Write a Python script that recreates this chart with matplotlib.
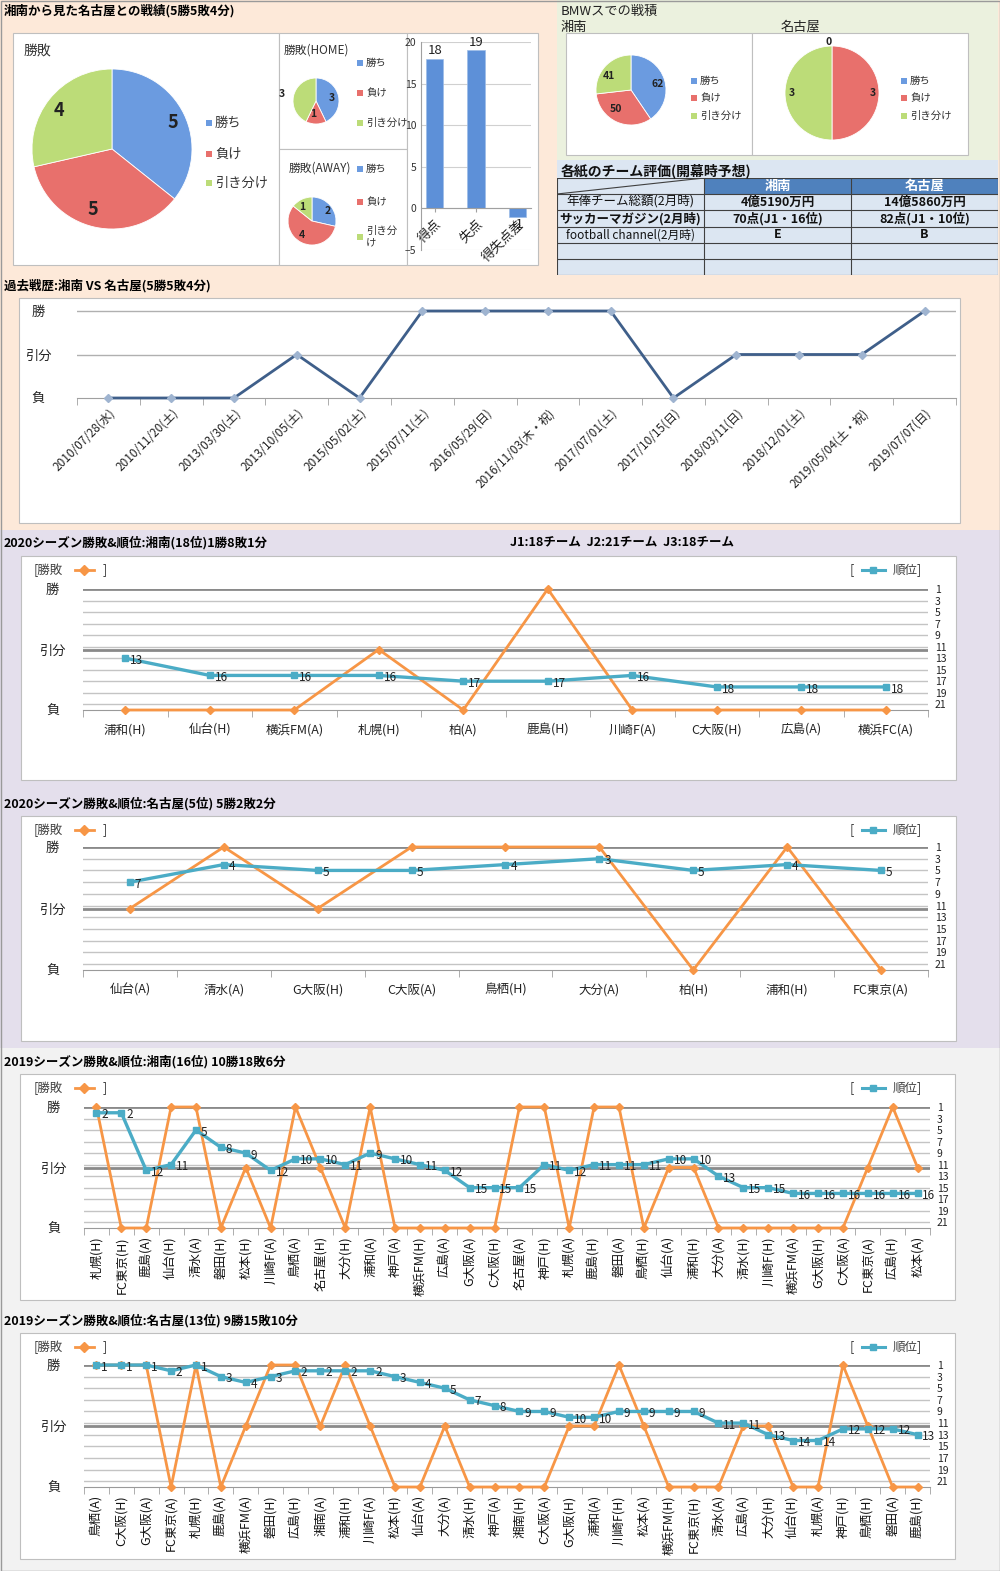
import matplotlib
matplotlib.use("Agg")
import matplotlib.pyplot as plt
from matplotlib.patches import Rectangle
from matplotlib.lines import Line2D

plt.rcParams['font.family'] = ['Noto Sans CJK JP', 'DejaVu Sans']

W, H = 1000, 1571

# ---------------- data ----------------
pie_labels = ['勝ち', '負け', '引き分け']
total_record = [5, 5, 4]
home_record = [3, 1, 3]
away_record = [2, 4, 1]
goal_names = ['得点', '失点', '得失点差']
goal_values = [18, 19, -1]
bmw_shonan = [62, 50, 41]
bmw_nagoya = [0, 3, 3]

table_header = ['', '湘南', '名古屋']
table_rows = [
    ['年俸チーム総額(2月時)', '4億5190万円', '14億5860万円'],
    ['サッカーマガジン(2月時)', '70点(J1・16位)', '82点(J1・10位)'],
    ['football channel(2月時)', 'E', 'B'],
    ['', '', ''],
    ['', '', ''],
]

# results: 1 = 勝, 0 = 引分, -1 = 負
past_dates = ['2010/07/28(水)', '2010/11/20(土)', '2013/03/30(土)', '2013/10/05(土)',
              '2015/05/02(土)', '2015/07/11(土)', '2016/05/29(日)', '2016/11/03(木・祝)',
              '2017/07/01(土)', '2017/10/15(日)', '2018/03/11(日)', '2018/12/01(土)',
              '2019/05/04(土・祝)', '2019/07/07(日)']
past_results = [-1, -1, -1, 0, -1, 1, 1, 1, 1, -1, 0, 0, 0, 1]

s20_teams = ['浦和(H)', '仙台(H)', '横浜FM(A)', '札幌(H)', '柏(A)', '鹿島(H)',
             '川崎F(A)', 'C大阪(H)', '広島(A)', '横浜FC(A)']
s20_results = [-1, -1, -1, 0, -1, 1, -1, -1, -1, -1]
s20_ranks = [13, 16, 16, 16, 17, 17, 16, 18, 18, 18]

n20_teams = ['仙台(A)', '清水(A)', 'G大阪(H)', 'C大阪(A)', '鳥栖(H)', '大分(A)',
             '柏(H)', '浦和(H)', 'FC東京(A)']
n20_results = [0, 1, 0, 1, 1, 1, -1, 1, -1]
n20_ranks = [7, 4, 5, 5, 4, 3, 5, 4, 5]

s19_teams = ['札幌(H)', 'FC東京(H)', '鹿島(A)', '仙台(H)', '清水(A)', '磐田(H)', '松本(H)',
             '川崎F(A)', '鳥栖(A)', '名古屋(H)', '大分(H)', '浦和(A)', '神戸(A)', '横浜FM(H)',
             '広島(A)', 'G大阪(A)', 'C大阪(H)', '名古屋(A)', '神戸(H)', '札幌(A)', '鹿島(H)',
             '磐田(A)', '鳥栖(H)', '仙台(A)', '浦和(H)', '大分(A)', '清水(H)', '川崎F(H)',
             '横浜FM(A)', 'G大阪(H)', 'C大阪(A)', 'FC東京(A)', '広島(H)', '松本(A)']
s19_results = [1, -1, -1, 1, 1, -1, 0, -1, 1, 0, -1, 1, -1, -1, -1, -1, -1,
               1, 1, -1, 1, 1, -1, 0, 0, -1, -1, -1, -1, -1, -1, 0, 1, 0]
s19_ranks = [2, 2, 12, 11, 5, 8, 9, 12, 10, 10, 11, 9, 10, 11, 12, 15, 15,
             15, 11, 12, 11, 11, 11, 10, 10, 13, 15, 15, 16, 16, 16, 16, 16, 16]

n19_teams = ['鳥栖(A)', 'C大阪(H)', 'G大阪(A)', 'FC東京(A)', '札幌(H)', '鹿島(A)', '横浜FM(A)',
             '磐田(H)', '広島(H)', '湘南(A)', '浦和(H)', '川崎F(A)', '松本(H)', '仙台(A)',
             '大分(A)', '清水(H)', '神戸(A)', '湘南(H)', 'C大阪(A)', 'G大阪(H)', '浦和(A)',
             '川崎F(H)', '松本(A)', '横浜FM(H)', 'FC東京(H)', '清水(A)', '広島(A)', '大分(H)',
             '仙台(H)', '札幌(A)', '神戸(H)', '鳥栖(H)', '磐田(A)', '鹿島(H)']
n19_results = [1, 1, 1, -1, 1, -1, 0, 1, 1, 0, 1, 0, -1, -1, 0, -1, -1,
               -1, -1, 0, 0, 1, 0, -1, -1, -1, 0, 0, -1, -1, 1, 0, -1, -1]
n19_ranks = [1, 1, 1, 2, 1, 3, 4, 3, 2, 2, 2, 2, 3, 4, 5, 7, 8,
             9, 9, 10, 10, 9, 9, 9, 9, 11, 11, 13, 14, 14, 12, 12, 12, 13]

pie_colors = ['#6b9be0', '#e8706c', '#bcdc78']
orange = '#f79646'
teal = '#4bacc6'

fig = plt.figure(figsize=(W / 100, H / 100), dpi=100)


def px(x, y, w, h):
    return [x / W, 1 - (y + h) / H, w / W, h / H]


def ftext(x, y, s, **kw):
    kw.setdefault('va', 'center')
    return fig.text(x / W, 1 - y / H, s, **kw)


def frect(x, y, w, h, fc, ec='none', lw=0.8, z=-5):
    fig.add_artist(Rectangle((x / W, 1 - (y + h) / H), w / W, h / H,
                             transform=fig.transFigure, fc=fc, ec=ec, lw=lw, zorder=z))


def fline(xs, ys, **kw):
    fig.add_artist(Line2D([x / W for x in xs], [1 - y / H for y in ys],
                          transform=fig.transFigure, **kw))


def draw_pie(cx, cy, r, values, dist, fsize, far=None):
    ax = fig.add_axes(px(cx - 1.5 * r, cy - 1.5 * r, 3 * r, 3 * r))
    wedges, texts = ax.pie(values, colors=pie_colors, startangle=90, counterclock=False,
                           labels=[str(v) for v in values], labeldistance=dist,
                           textprops=dict(fontsize=fsize, fontweight='bold', color='#222222'),
                           wedgeprops=dict(linewidth=0.6, edgecolor='white'))
    ax.set_xlim(-1.5, 1.5)
    ax.set_ylim(-1.5, 1.5)
    if far:
        for i, f in far.items():
            x0, y0 = texts[i].get_position()
            texts[i].set_position((x0 * f, y0 * f))
    return ax


def pie_legend(x, ys, labels, fsize):
    for yy, lab, c in zip(ys, labels, pie_colors):
        frect(x, yy - 3, 6, 6, c, z=2)
        ftext(x + 9, yy, lab, fontsize=fsize, color='#333333')


# ---------------- backgrounds ----------------
frect(0, 0, 1000, 530, '#fde9d9')
frect(557, 0, 441, 160, '#ebf1de')
frect(557, 160, 441, 115, '#dce6f2')
frect(0, 530, 1000, 518, '#e4dfec')
frect(0, 1048, 1000, 523, '#f2f2f2')
frect(0.5, 0.5, 999, 1570, 'none', ec='#9a9a9a', lw=1, z=20)

# ---------------- top left: head-to-head record ----------------
ftext(4, 11, '湘南から見た名古屋との戦績(5勝5敗4分)', fontsize=9, fontweight='bold')
frect(13, 33, 266, 232, 'white', ec='#bfbfbf', z=-4)
frect(279, 33, 128, 116, 'white', ec='#bfbfbf', z=-4)
frect(279, 149, 128, 116, 'white', ec='#bfbfbf', z=-4)
frect(407, 33, 131, 232, 'white', ec='#bfbfbf', z=-4)

ftext(24, 52, '勝敗', fontsize=10, color='#333333')
draw_pie(112, 149, 80, total_record, 0.77, 13)
pie_legend(206, [123, 154, 183], pie_labels, 9.5)

ftext(284, 50, '勝敗(HOME)', fontsize=8.5, color='#333333')
draw_pie(316, 101, 23, home_record, 0.55, 7.5, far={2: 2.5})
pie_legend(357, [63, 93, 123], pie_labels, 7.5)

ftext(289, 168, '勝敗(AWAY)', fontsize=8.5, color='#333333')
draw_pie(312, 221, 24, away_record, 0.65, 7.5)
pie_legend(357, [169, 202, 237], ['勝ち', '負け', '引き分\nけ'], 7.5)

axb = fig.add_axes(px(421, 42, 110, 208))
bars = axb.bar(goal_names, goal_values, width=0.42, color='#5d90d8', edgecolor='#9dbce8', lw=0.5)
axb.set_ylim(-5, 20)
axb.set_yticks([-5, 0, 5, 10, 15, 20])
axb.yaxis.grid(True, color='#d0d0d0', lw=0.8)
axb.set_axisbelow(True)
axb.spines[['top', 'right']].set_visible(False)
axb.spines['left'].set_color('#a0a0a0')
axb.spines['bottom'].set_position(('data', 0))
axb.spines['bottom'].set_color('#a0a0a0')
axb.tick_params(axis='y', labelsize=7.5, length=0, colors='#333333')
axb.tick_params(axis='x', labelsize=9.5, length=3, colors='#a0a0a0', labelcolor='#222222')
for lab in axb.get_xticklabels():
    lab.set_rotation(45)
    lab.set_ha('right')
    lab.set_rotation_mode('anchor')
axb.bar_label(bars, fontsize=9.5, padding=1, color='#222222')
axb.set_facecolor('none')

# ---------------- top right: BMW record ----------------
ftext(561, 11, 'BMWスでの戦積', fontsize=9.5, color='#222222')
ftext(561, 27, '湘南', fontsize=9.5, color='#222222')
ftext(781, 27, '名古屋', fontsize=9.5, color='#222222')
frect(566, 33, 186, 122, 'white', ec='#bfbfbf', z=-4)
frect(752, 33, 216, 122, 'white', ec='#bfbfbf', z=-4)
draw_pie(631, 90, 35, bmw_shonan, 0.6, 7.5)
pie_legend(691, [81, 98, 116], pie_labels, 7.5)
draw_pie(832, 93, 47, bmw_nagoya, 0.8, 7.5, far={0: 1.35})
pie_legend(901, [81, 98, 116], pie_labels, 7.5)

# ---------------- table ----------------
ftext(561, 171, '各紙のチーム評価(開幕時予想)', fontsize=10, fontweight='bold', color='#111111')
tax = fig.add_axes(px(557, 178, 441, 97))
tax.set_xlim(0, 441)
tax.set_ylim(97, 0)
tax.axis('off')
col_x = [0, 147, 294, 441]
row_y = [0, 16, 32, 49, 65, 81, 97]
for j in (1, 2):
    tax.add_patch(Rectangle((col_x[j], 0), col_x[j + 1] - col_x[j], 16, fc='#4f81bd', ec='none'))
    tax.text((col_x[j] + col_x[j + 1]) / 2, 8, table_header[j], ha='center', va='center',
             fontsize=9.5, fontweight='bold', color='white')
tax.plot([0, 147], [16, 0], color='#404040', lw=0.8)
for yy in row_y:
    tax.axhline(yy, color='#404040', lw=0.8)
for xx in col_x:
    tax.axvline(xx, color='#404040', lw=0.8)
for i, row in enumerate(table_rows):
    yc = (row_y[i + 1] + row_y[i + 2]) / 2
    for j, val in enumerate(row):
        xc = (col_x[j] + col_x[j + 1]) / 2
        w = 'bold' if (j > 0 or i == 1) else 'normal'
        fs = 8.5 if i == 2 and j == 0 else 9
        tax.text(xc, yc, val, ha='center', va='center', fontsize=fs, fontweight=w, color='#111111')

# ---------------- past record ----------------
ftext(4, 286, '過去戦歴:湘南 VS 名古屋(5勝5敗4分)', fontsize=9, fontweight='bold')
frect(19, 298, 941, 225, 'white', ec='#bfbfbf', z=-4)
axp = fig.add_axes(px(77, 305, 879, 93))
axp.set_facecolor('none')
n = len(past_dates)
axp.plot(range(n), past_results, color='#3f5f8a', lw=2, marker='D', ms=4,
         mfc='#9fb4d0', mec='#9fb4d0', clip_on=False, zorder=3)
axp.set_xlim(-0.5, n - 0.5)
axp.set_ylim(-1, 1 + 6 / 43.5)
axp.set_yticks([-1, 0, 1], ['負', '引分', '勝'])
axp.axhline(1, color='#b0b0b0', lw=1)
axp.axhline(0, color='#b0b0b0', lw=1)
axp.spines[['top', 'right', 'left']].set_visible(False)
axp.spines['bottom'].set_color('#a0a0a0')
axp.tick_params(axis='y', length=0, labelsize=9.5, pad=28, labelcolor='#222222')
for lab in axp.get_yticklabels():
    lab.set_ha('center')
axp.set_xticks(range(n), past_dates)
axp.set_xticks([k + 0.5 for k in range(-1, n)], minor=True)
axp.tick_params(axis='x', which='major', length=0, labelsize=8.5, pad=6, labelcolor='#222222')
axp.tick_params(axis='x', which='minor', length=5, color='#a0a0a0')
for lab in axp.get_xticklabels():
    lab.set_rotation(45)
    lab.set_ha('right')
    lab.set_rotation_mode('anchor')


# ---------------- season charts ----------------
def season(title_y, title, box, plot_y, plot_x, teams, results, ranks, vertical):
    ftext(4, title_y, title, fontsize=9, fontweight='bold')
    bx0, bx1 = box[0]
    by0, by1 = box[1]
    frect(bx0, by0, bx1 - bx0, by1 - by0, 'white', ec='#bfbfbf', z=-4)
    n = len(teams)
    ax_g = fig.add_axes(px(plot_x[0], plot_y[0], plot_x[1] - plot_x[0], plot_y[1] - plot_y[0]))
    ax_g.set_facecolor('none')
    ax_r = ax_g.twinx()
    ax_t = ax_g.twinx()

    # grid + rank axis
    ax_g.set_xlim(-0.5, n - 0.5)
    ax_g.set_ylim(22, 1)
    for r in range(3, 22, 2):
        ax_g.axhline(r, color='#c4c4c4', lw=1)
    ax_g.yaxis.tick_right()
    ax_g.set_yticks(range(1, 22, 2))
    ax_g.tick_params(axis='y', length=0, labelsize=7.5, pad=5, labelcolor='#222222')
    ax_g.spines[['top', 'left', 'right']].set_visible(False)
    ax_g.spines['bottom'].set_color('#9a9a9a')
    ax_g.set_xticks(range(n), teams)
    ax_g.set_xticks([k + 0.5 for k in range(-1, n)], minor=True)
    ax_g.tick_params(axis='x', which='minor', length=5, color='#a0a0a0')
    if vertical:
        ax_g.tick_params(axis='x', which='major', length=0, labelsize=9, pad=6,
                         labelrotation=90, labelcolor='#111111')
    else:
        ax_g.tick_params(axis='x', which='major', length=0, labelsize=9, pad=10,
                         labelcolor='#222222')

    # result axis
    ax_r.set_ylim(-1, 1)
    ax_r.yaxis.tick_left()
    ax_r.set_yticks([-1, 0, 1], ['負', '引分', '勝'])
    ax_r.tick_params(axis='y', length=0, labelsize=9.5, pad=22, labelcolor='#222222')
    for lab in ax_r.get_yticklabels():
        lab.set_ha('center')
    ax_r.spines[:].set_visible(False)
    ax_r.axhline(1, color='#8a8a8a', lw=2)
    ax_r.axhline(0, color='#8a8a8a', lw=2)
    ax_r.plot(range(n), results, color=orange, lw=2, marker='D', ms=4, clip_on=False, zorder=3)

    # rank line
    ax_t.set_ylim(22, 1)
    ax_t.set_axis_off()
    ax_t.plot(range(n), ranks, color=teal, lw=2.4, marker='s', ms=4.5, clip_on=False, zorder=4)
    for i, r in enumerate(ranks):
        ax_t.annotate(str(r), (i, r), xytext=(3.5, -1.5), textcoords='offset points',
                      fontsize=8.5, va='center', ha='left', color='#222222', zorder=5)

    # legend marks
    ly = by0 + 14
    ftext(34, ly, '[勝敗', fontsize=9, color='#404040')
    fline([75, 84, 94], [ly, ly, ly], color=orange, lw=2, marker='D', ms=5, markevery=[1])
    ftext(103, ly, ']', fontsize=9, color='#404040')
    ftext(850, ly, '[', fontsize=9, color='#404040')
    fline([862, 873, 885], [ly, ly, ly], color=teal, lw=2.2, marker='s', ms=5, markevery=[1])
    ftext(893, ly, '順位]', fontsize=9, color='#404040')


season(543, '2020シーズン勝敗&順位:湘南(18位)1勝8敗1分', ((21, 956), (556, 780)),
       (589, 710), (83, 928), s20_teams, s20_results, s20_ranks, False)
ftext(510, 543, 'J1:18チーム  J2:21チーム  J3:18チーム', fontsize=9, fontweight='bold')
season(804, '2020シーズン勝敗&順位:名古屋(5位) 5勝2敗2分', ((21, 956), (816, 1041)),
       (847, 970), (83, 928), n20_teams, n20_results, n20_ranks, False)
season(1062, '2019シーズン勝敗&順位:湘南(16位) 10勝18敗6分', ((20, 955), (1074, 1300)),
       (1107, 1228), (84, 930), s19_teams, s19_results, s19_ranks, True)
season(1321, '2019シーズン勝敗&順位:名古屋(13位) 9勝15敗10分', ((20, 955), (1333, 1559)),
       (1365, 1487), (84, 930), n19_teams, n19_results, n19_ranks, True)

plt.savefig('out.png', dpi=100)
plt.close()
